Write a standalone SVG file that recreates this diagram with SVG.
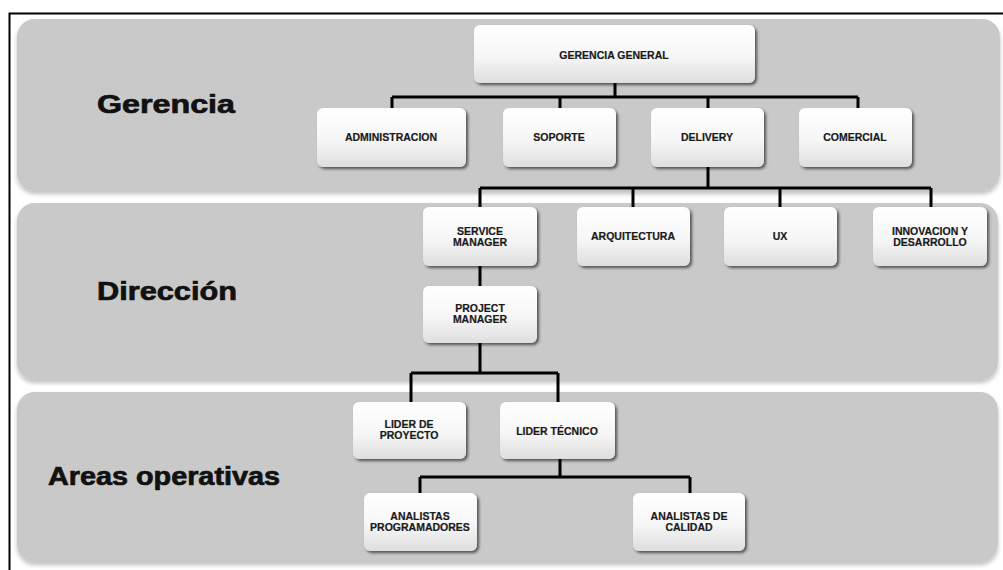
<svg xmlns="http://www.w3.org/2000/svg" width="1003" height="570" viewBox="0 0 1003 570">
  <defs>
    <linearGradient id="nodeFill" x1="0" y1="0" x2="0" y2="1">
      <stop offset="0" stop-color="#ffffff"/>
      <stop offset="0.55" stop-color="#f6f6f6"/>
      <stop offset="1" stop-color="#dedede"/>
    </linearGradient>
    <filter id="nodeShadow" x="-10%" y="-10%" width="125%" height="130%">
      <feGaussianBlur in="SourceAlpha" stdDeviation="1.4"/>
      <feOffset dx="1.5" dy="2" result="blur"/>
      <feComponentTransfer><feFuncA type="linear" slope="0.6"/></feComponentTransfer>
      <feMerge><feMergeNode/><feMergeNode in="SourceGraphic"/></feMerge>
    </filter>
    <filter id="bandShadow" x="-5%" y="-10%" width="110%" height="125%">
      <feGaussianBlur in="SourceAlpha" stdDeviation="2"/>
      <feOffset dx="0" dy="3"/>
      <feComponentTransfer><feFuncA type="linear" slope="0.25"/></feComponentTransfer>
      <feMerge><feMergeNode/><feMergeNode in="SourceGraphic"/></feMerge>
    </filter>
  </defs>
  <style>
    .band { fill: #c9c9c9; filter: url(#bandShadow); }
    .level { font-family: "Liberation Sans", Arial, sans-serif; font-weight: bold; font-size: 25px; fill: #111; stroke: #111; stroke-width: 0.7; }
    .node rect { fill: url(#nodeFill); filter: url(#nodeShadow); }
    .node text { font-family: "Liberation Sans", Arial, sans-serif; font-weight: bold; font-size: 10.5px; fill: #1a1a1a; stroke: #1a1a1a; stroke-width: 0.2; text-anchor: middle; }
    .wire { fill: none; stroke: #000; stroke-width: 3; }
  </style>

  <rect width="1003" height="570" fill="#ffffff"/>
  <!-- outer frame -->
  <rect x="9.5" y="13.5" width="1010" height="600" fill="none" stroke="#000" stroke-width="2"/>

  <!-- level bands -->
  <g id="bands">
    <rect class="band" x="17" y="19" width="983" height="172" rx="18"/>
    <rect class="band" x="17" y="203" width="981" height="177" rx="18"/>
    <rect class="band" x="17" y="392" width="981" height="170" rx="18"/>
  </g>

  <g id="level-labels">
    <text class="level" x="97" y="113" textLength="138" lengthAdjust="spacingAndGlyphs">Gerencia</text>
    <text class="level" x="97" y="300" textLength="140" lengthAdjust="spacingAndGlyphs">Dirección</text>
    <text class="level" x="48" y="485" textLength="232" lengthAdjust="spacingAndGlyphs">Areas operativas</text>
  </g>

  <!-- connectors -->
  <g id="connectors" class="wire">
    <path d="M615 83 V97 M392 97 H858 M392 97 V108 M560 97 V108 M708 97 V108 M858 97 V108"/>
    <path d="M708 167 V188 M480 188 H931 M480 188 V207 M633 188 V207 M780 188 V207 M931 188 V207"/>
    <path d="M480 266 V286"/>
    <path d="M480 343 V373 M411 373 H558 M411 373 V402 M558 373 V402"/>
    <path d="M560 459 V477 M420 477 H690 M420 477 V493 M690 477 V493"/>
  </g>

  <!-- nodes -->
  <g id="gerencia-general" class="node">
    <rect x="474" y="25" width="281" height="58" rx="6"/>
    <text x="614" y="59">GERENCIA GENERAL</text>
  </g>
  <g id="administracion" class="node">
    <rect x="317" y="108" width="149" height="59" rx="6"/>
    <text x="391" y="141">ADMINISTRACION</text>
  </g>
  <g id="soporte" class="node">
    <rect x="503" y="108" width="113" height="59" rx="6"/>
    <text x="559" y="141">SOPORTE</text>
  </g>
  <g id="delivery" class="node">
    <rect x="651" y="108" width="113" height="59" rx="6"/>
    <text x="707" y="141">DELIVERY</text>
  </g>
  <g id="comercial" class="node">
    <rect x="799" y="108" width="113" height="59" rx="6"/>
    <text x="855" y="141">COMERCIAL</text>
  </g>

  <g id="service-manager" class="node">
    <rect x="423" y="207" width="114" height="59" rx="6"/>
    <text x="480" y="235">SERVICE</text>
    <text x="480" y="246">MANAGER</text>
  </g>
  <g id="arquitectura" class="node">
    <rect x="577" y="207" width="113" height="59" rx="6"/>
    <text x="633" y="240">ARQUITECTURA</text>
  </g>
  <g id="ux" class="node">
    <rect x="724" y="207" width="113" height="59" rx="6"/>
    <text x="780" y="240">UX</text>
  </g>
  <g id="innovacion-desarrollo" class="node">
    <rect x="873" y="207" width="114" height="59" rx="6"/>
    <text x="930" y="235">INNOVACION Y</text>
    <text x="930" y="246">DESARROLLO</text>
  </g>
  <g id="project-manager" class="node">
    <rect x="423" y="286" width="114" height="57" rx="6"/>
    <text x="480" y="312">PROJECT</text>
    <text x="480" y="323">MANAGER</text>
  </g>

  <g id="lider-proyecto" class="node">
    <rect x="353" y="402" width="113" height="57" rx="6"/>
    <text x="409" y="428">LIDER DE</text>
    <text x="409" y="439">PROYECTO</text>
  </g>
  <g id="lider-tecnico" class="node">
    <rect x="500" y="402" width="115" height="57" rx="6"/>
    <text x="557" y="435">LIDER TÉCNICO</text>
  </g>
  <g id="analistas-programadores" class="node">
    <rect x="364" y="493" width="113" height="58" rx="6"/>
    <text x="420" y="520">ANALISTAS</text>
    <text x="420" y="531">PROGRAMADORES</text>
  </g>
  <g id="analistas-calidad" class="node">
    <rect x="633" y="493" width="112" height="58" rx="6"/>
    <text x="689" y="520">ANALISTAS DE</text>
    <text x="689" y="531">CALIDAD</text>
  </g>
</svg>
